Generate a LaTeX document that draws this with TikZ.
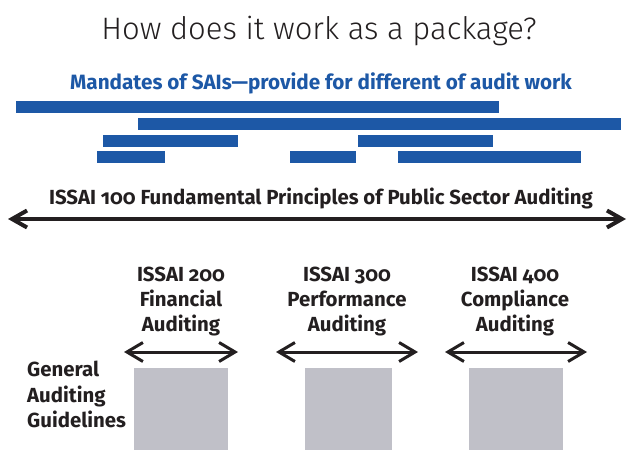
\documentclass[tikz,border=0pt]{standalone}
\usepackage{fontspec}
\setmainfont{Fira Sans}[Numbers=OldStyle]
\newfontfamily\lightfont{Fira Sans Light}[Numbers=OldStyle]
\usetikzlibrary{arrows.meta}
\definecolor{sblue}{RGB}{29,88,166}
\definecolor{sgray}{RGB}{192,192,200}
\definecolor{ink}{RGB}{35,31,32}
\begin{document}
\begin{tikzpicture}[x=1pt,y=-1pt,
  txt/.style={inner sep=0pt, text=ink, font=\bfseries\fontsize{20.4}{20.4}\selectfont, anchor=base},
  titletxt/.style={inner sep=0pt, text=ink, font=\lightfont\fontsize{31}{31}\selectfont, anchor=base},
  bluetxt/.style={inner sep=0pt, text=sblue, font=\bfseries\fontsize{20.7}{20.7}\selectfont, anchor=base},
  bar/.style={fill=sblue},
  gbox/.style={fill=sgray},
  bigarrow/.style={draw=ink, line width=4pt, {Straight Barb[length=15pt,width=17pt]}-{Straight Barb[length=15pt,width=17pt]}, shorten <=1pt, shorten >=1pt},
  smallarrow/.style={draw=ink, line width=3pt, {Straight Barb[length=16pt,width=19pt]}-{Straight Barb[length=16pt,width=19pt]}, shorten <=1pt, shorten >=1pt}
]
\useasboundingbox (0,0) rectangle (628,450);
% title
\node[titletxt] (title) at (319,39.5) {How does it work as a package?};
\node[bluetxt] (mandates) at (321,89) {Mandates of SAIs---provide for different of audit work};
% bars
\fill[bar] (16,101) rectangle (499,112.5);
\fill[bar] (138,118) rectangle (621,129.5);
\fill[bar] (103,135) rectangle (238,146.5);
\fill[bar] (358,135) rectangle (493,146.5);
\fill[bar] (97,151) rectangle (165,162.5);
\fill[bar] (290,151) rectangle (356,162.5);
\fill[bar] (398,151) rectangle (581,162.5);
% ISSAI 100
\node[txt] (issai100) at (321,204) {ISSAI 100 Fundamental Principles of Public Sector Auditing};
\coordinate (L) at (7,219);
\coordinate (R) at (627,219);
\draw[bigarrow] (L) -- (R);
% columns
\node[txt] (c1a) at (181,281.5) {ISSAI 200};
\node[txt] (c1b) at (181,306.5) {Financial};
\node[txt] (c1c) at (181,331.5) {Auditing};
\node[txt] (c2a) at (347,281.5) {ISSAI 300};
\node[txt] (c2b) at (347,306.5) {Performance};
\node[txt] (c2c) at (347,331.5) {Auditing};
\node[txt] (c3a) at (515,281.5) {ISSAI 400};
\node[txt] (c3b) at (515,306.5) {Compliance};
\node[txt] (c3c) at (515,331.5) {Auditing};
% small arrows
\coordinate (a1l) at (123,352);
\coordinate (a1r) at (239,352);
\coordinate (a2l) at (275,352);
\coordinate (a2r) at (419,352);
\coordinate (a3l) at (444,352);
\coordinate (a3r) at (588,352);
\draw[smallarrow] (a1l) -- (a1r);
\draw[smallarrow] (a2l) -- (a2r);
\draw[smallarrow] (a3l) -- (a3r);
% boxes
\fill[gbox] (134,368) rectangle (228,450);
\fill[gbox] (305,368) rectangle (392,450);
\fill[gbox] (469,368) rectangle (563,450);
% general text
\node[txt, anchor=base west] (g1) at (27,376.5) {General};
\node[txt, anchor=base west] (g2) at (27,402) {Auditing};
\node[txt, anchor=base west] (g3) at (27,427.5) {Guidelines};
\end{tikzpicture}
\end{document}
